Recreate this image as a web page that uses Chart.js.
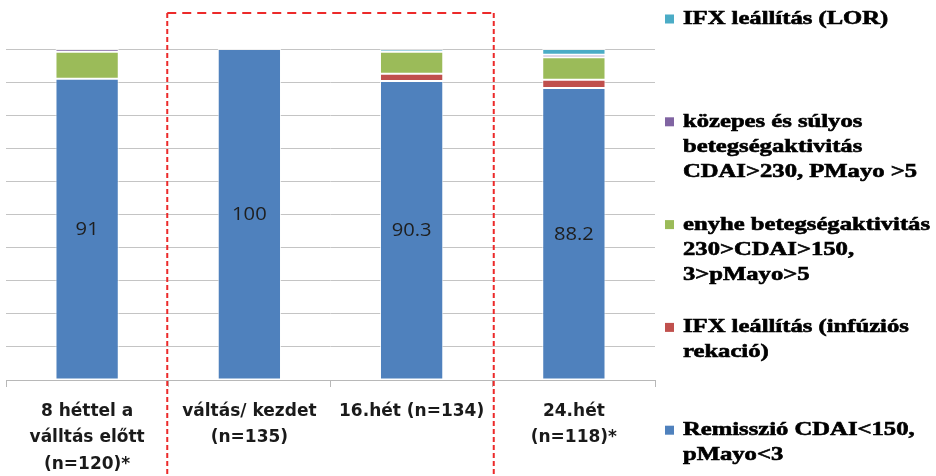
<!DOCTYPE html>
<html lang="hu">
<head>
<meta charset="utf-8">
<title>Remisszió és betegségaktivitás</title>
<script src="https://cdn.jsdelivr.net/npm/chart.js@4/dist/chart.umd.min.js"></script>
<style>
  html, body { margin: 0; padding: 0; background: #ffffff; }
  #wrap { width: 936px; height: 476px; position: relative; }
</style>
</head>
<body>
<div id="wrap"><canvas id="chart" width="936" height="476"></canvas></div>
<script>
// Időpontok (x tengely)
const categories = [
  ['8 héttel a', 'válltás előtt', '(n=120)*'],
  ['váltás/ kezdet', '(n=135)'],
  '16.hét (n=134)',
  ['24.hét', '(n=118)*']
];

// Betegarányok (%) kategóriánként, alulról felfelé halmozva
const remisszio   = [91, 100, 90.3, 88.2];
const infuzios    = [0, 0, 2.2, 2.5];
const enyhe       = [8.2, 0, 6.7, 6.8];
const kozepes     = [0.8, 0, 0, 0.8];
const lor         = [0, 0, 0.7, 1.7];

// Y tengely osztásai
const yTicks = [0, 10, 20, 30, 40, 50, 60, 70, 80, 90, 100];

// Jelmagyarázat szövegei (sortörésekkel)
const seriesNames = [
  ['Remisszió CDAI<150,', 'pMayo<3'],
  ['IFX leállítás (infúziós', 'rekació)'],
  ['enyhe betegségaktivitás', '230>CDAI>150,', '3>pMayo>5'],
  ['közepes és súlyos', 'betegségaktivitás', 'CDAI>230, PMayo >5'],
  ['IFX leállítás (LOR)']
];
const seriesColors = ['#4f81bd', '#c0504d', '#9bbb59', '#8064a2', '#4bacc6'];
const seriesValues = [remisszio, infuzios, enyhe, kozepes, lor];

const datasets = seriesValues.map((vals, i) => ({
  label: seriesNames[i].join(' '),
  data: vals,
  backgroundColor: seriesColors[i],
  borderColor: 'rgba(255,255,255,0.75)',
  borderWidth: ctx => (ctx.raw > 0 ? 1 : 0),
  borderSkipped: false,
  barPercentage: 0.39,
  categoryPercentage: 1
}));

// Érték a remissziós oszloprész közepén (kissé szélesített betűkkel)
const valueLabels = {
  id: 'valueLabels',
  afterDatasetsDraw(chart) {
    const meta = chart.getDatasetMeta(0);
    const ctx = chart.ctx;
    ctx.save();
    ctx.font = '18px "Open Sans", sans-serif';
    ctx.fillStyle = '#1e1e1e';
    ctx.textAlign = 'center';
    ctx.textBaseline = 'middle';
    meta.data.forEach((bar, i) => {
      ctx.save();
      ctx.translate(bar.x, (bar.y + bar.base) / 2 + 1);
      ctx.scale(1.12, 1);
      ctx.fillText(String(remisszio[i]), 0, 0);
      ctx.restore();
    });
    ctx.restore();
  }
};

// Szaggatott keret a váltás és a 16. hét körül
const switchFrame = {
  id: 'switchFrame',
  afterDraw(chart) {
    const x = chart.scales.x;
    const ctx = chart.ctx;
    const left = (x.getPixelForValue(0) + x.getPixelForValue(1)) / 2 - 1;
    const right = (x.getPixelForValue(2) + x.getPixelForValue(3)) / 2 + 1;
    const top = 13;
    const bottom = chart.height;
    ctx.save();
    ctx.strokeStyle = '#ec2a2a';
    ctx.lineWidth = 2;
    ctx.setLineDash([9, 6]);
    ctx.beginPath();
    ctx.moveTo(left, top);
    ctx.lineTo(right, top);
    ctx.stroke();
    ctx.setLineDash([5, 3]);
    ctx.beginPath();
    ctx.moveTo(left, top);
    ctx.lineTo(left, bottom);
    ctx.moveTo(right, top);
    ctx.lineTo(right, bottom);
    ctx.stroke();
    ctx.restore();
  }
};

// Jelmagyarázat a jobb oldalon, fordított sorrendben, szélesített, vastagított betűkkel
const sideLegend = {
  id: 'sideLegend',
  afterDraw(chart) {
    const ctx = chart.ctx;
    const textX = 683;
    const boxX = 665;
    const firstY = 19;
    const step = 102.8;
    const lineH = 25;
    ctx.save();
    ctx.font = 'bold 19px "Liberation Serif", "Times New Roman", serif';
    ctx.textAlign = 'left';
    ctx.textBaseline = 'middle';
    const sx = 247 / ctx.measureText('enyhe betegségaktivitás').width;
    const order = [4, 3, 2, 1, 0];
    order.forEach((s, k) => {
      const y0 = firstY + k * step;
      ctx.fillStyle = seriesColors[s];
      ctx.fillRect(boxX, y0 - 4.5, 9, 9);
      ctx.fillStyle = '#000000';
      ctx.strokeStyle = '#000000';
      ctx.lineWidth = 0.6;
      seriesNames[s].forEach((line, j) => {
        ctx.save();
        ctx.translate(textX, y0 + j * lineH);
        ctx.scale(sx, 1);
        ctx.fillText(line, 0, 0);
        ctx.strokeText(line, 0, 0);
        ctx.restore();
      });
    });
    ctx.restore();
  }
};

new Chart(document.getElementById('chart'), {
  type: 'bar',
  data: { labels: categories, datasets },
  options: {
    responsive: false,
    animation: false,
    layout: { padding: { left: 6, right: 281, top: 49, bottom: 0 } },
    plugins: {
      legend: { display: false },
      tooltip: { enabled: false }
    },
    scales: {
      x: {
        stacked: true,
        grid: {
          offset: true,
          drawOnChartArea: false,
          drawTicks: true,
          tickLength: 7,
          color: '#b8b8b8'
        },
        border: { display: true, color: '#b8b8b8', width: 1 },
        ticks: {
          autoSkip: false,
          maxRotation: 0,
          minRotation: 0,
          padding: 11,
          color: '#1a1a1a',
          font: { family: '"DejaVu Sans", sans-serif', size: 17, weight: 'bold', lineHeight: 1.56 }
        },
        afterFit(scale) { scale.height = 96; }
      },
      y: {
        stacked: true,
        min: 0,
        max: 100,
        afterBuildTicks(scale) { scale.ticks = yTicks.map(v => ({ value: v })); },
        grid: { color: '#c4c4c4', lineWidth: 1, drawTicks: false },
        border: { display: false },
        ticks: { display: false },
        afterFit(scale) { scale.width = 0; }
      }
    }
  },
  plugins: [valueLabels, switchFrame, sideLegend]
});
</script>
</body>
</html>
